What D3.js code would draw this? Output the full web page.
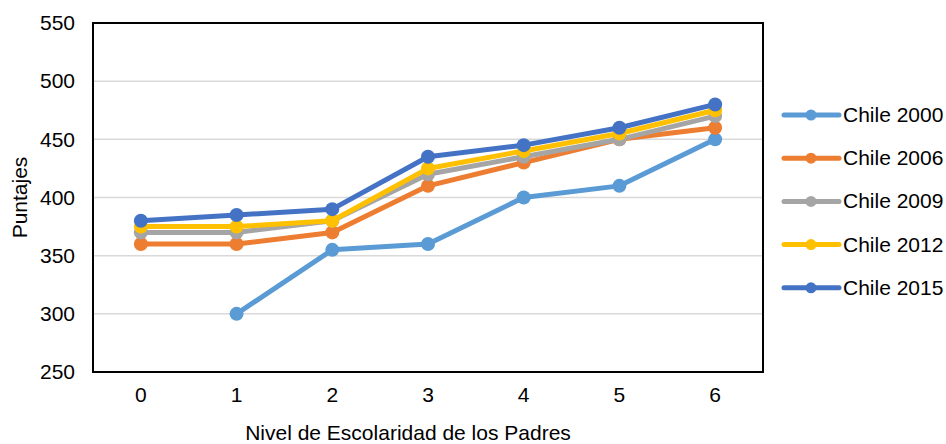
<!DOCTYPE html>
<html>
<head>
<meta charset="utf-8">
<script src="https://cdn.jsdelivr.net/npm/d3@7"></script>
<style>
  body { margin: 0; background: #fff; }
  text { font-family: "Liberation Sans", Arial, sans-serif; fill: #000; }
</style>
</head>
<body>
<svg id="chart" width="946" height="444"></svg>
<script>
// Nivel de escolaridad (categories on the x axis)
const niveles = ["0", "1", "2", "3", "4", "5", "6"];
const yTicks = [250, 300, 350, 400, 450, 500, 550];

const seriesNames = ["Chile 2000", "Chile 2006", "Chile 2009", "Chile 2012", "Chile 2015"];
const seriesColors = ["#5b9bd5", "#ed7d31", "#a5a5a5", "#ffc000", "#4472c4"];

const chile2000 = [null, 300, 355, 360, 400, 410, 450];
const chile2006 = [360, 360, 370, 410, 430, 450, 460];
const chile2009 = [370, 370, 380, 420, 435, 450, 470];
const chile2012 = [375, 375, 380, 425, 440, 455, 475];
const chile2015 = [380, 385, 390, 435, 445, 460, 480];
const seriesValues = [chile2000, chile2006, chile2009, chile2012, chile2015];

const svg = d3.select("#chart");
const plot = { left: 93, right: 763, top: 23, bottom: 372 };
const fontSize = "21px";

const x = d3.scaleBand().domain(niveles).range([plot.left, plot.right]);
const y = d3.scaleLinear().domain([250, 550]).range([plot.bottom, plot.top]);

// Horizontal gridlines
svg.append("g")
  .selectAll("line")
  .data(yTicks)
  .join("line")
  .attr("x1", plot.left).attr("x2", plot.right)
  .attr("y1", d => y(d)).attr("y2", d => y(d))
  .attr("stroke", "#d9d9d9").attr("stroke-width", 1.5);

// Plot-area frame
svg.append("rect")
  .attr("x", plot.left).attr("y", plot.top)
  .attr("width", plot.right - plot.left).attr("height", plot.bottom - plot.top)
  .attr("fill", "none").attr("stroke", "#000").attr("stroke-width", 2);

// Y axis labels
const yAxis = svg.append("g")
  .attr("transform", `translate(${plot.left},0)`)
  .call(d3.axisLeft(y).tickValues(yTicks).tickSize(0).tickPadding(18));
yAxis.select(".domain").remove();
yAxis.selectAll("text").style("font-size", fontSize).attr("fill", "#000");

// X axis labels
const xAxis = svg.append("g")
  .attr("transform", `translate(0,${plot.bottom})`)
  .call(d3.axisBottom(x).tickSize(0).tickPadding(15));
xAxis.select(".domain").remove();
xAxis.selectAll("text").style("font-size", fontSize).attr("fill", "#000");

// Axis titles
svg.append("text")
  .attr("x", 408).attr("y", 440)
  .attr("text-anchor", "middle")
  .style("font-size", fontSize)
  .text("Nivel de Escolaridad de los Padres");

svg.append("text")
  .attr("transform", `translate(27,${(plot.top + plot.bottom) / 2}) rotate(-90)`)
  .attr("text-anchor", "middle")
  .style("font-size", fontSize)
  .text("Puntajes");

// Series lines with markers
const line = d3.line()
  .defined(d => d.v !== null)
  .x(d => x(d.k) + x.bandwidth() / 2)
  .y(d => y(d.v));

seriesValues.forEach((vals, i) => {
  const pts = vals.map((v, j) => ({ k: niveles[j], v }));
  const g = svg.append("g");
  g.append("path")
    .datum(pts)
    .attr("d", line)
    .attr("fill", "none")
    .attr("stroke", seriesColors[i])
    .attr("stroke-width", 5)
    .attr("stroke-linejoin", "round");
  g.selectAll("circle")
    .data(pts.filter(d => d.v !== null))
    .join("circle")
    .attr("cx", d => x(d.k) + x.bandwidth() / 2)
    .attr("cy", d => y(d.v))
    .attr("r", 7)
    .attr("fill", seriesColors[i]);
});

// Legend
const legend = svg.append("g");
seriesNames.forEach((name, i) => {
  const cy = 115 + i * 43.2;
  legend.append("line")
    .attr("x1", 784).attr("x2", 839)
    .attr("y1", cy).attr("y2", cy)
    .attr("stroke", seriesColors[i]).attr("stroke-width", 5)
    .attr("stroke-linecap", "round");
  legend.append("circle")
    .attr("cx", 811).attr("cy", cy).attr("r", 5.5)
    .attr("fill", seriesColors[i]);
  legend.append("text")
    .attr("x", 843).attr("y", cy + 7)
    .style("font-size", fontSize)
    .text(name);
});
</script>
</body>
</html>
